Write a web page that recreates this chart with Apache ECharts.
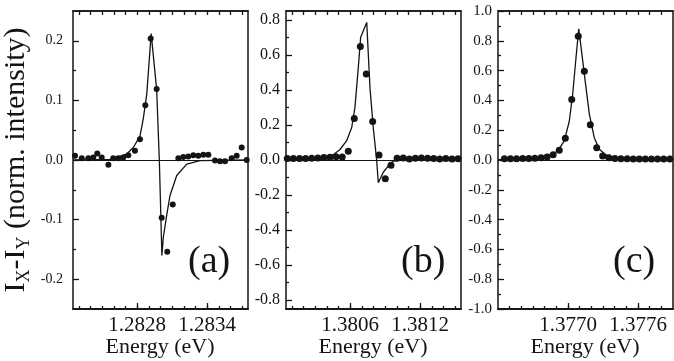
<!DOCTYPE html>
<html>
<head>
<meta charset="utf-8">
<script src="https://cdn.jsdelivr.net/npm/echarts@6/dist/echarts.min.js"></script>
<style>
  html, body { margin: 0; padding: 0; background: #fff; }
  #chart { width: 674px; height: 361px; }
</style>
</head>
<body>
<div id="chart"></div>
<script>
// panel (a)
const aEnergy = [1.282267, 1.282325, 1.282381, 1.282424, 1.282458, 1.282496, 1.282553, 1.282595, 1.282638, 1.282681, 1.282724, 1.282781, 1.282824, 1.28287, 1.282916, 1.282967, 1.28301, 1.283058, 1.283105, 1.283153, 1.283195, 1.283238, 1.283281, 1.283324, 1.283367, 1.28341, 1.283467, 1.28351, 1.283553, 1.28361, 1.283653, 1.283696, 1.283739]
const aSignal = [0.007, 0.003, 0.003, 0.004, 0.011, 0.004, -0.008, 0.003, 0.003, 0.004, 0.008, 0.0155, 0.035, 0.092, 0.204, 0.119, -0.097, -0.154, -0.0745, 0.003, 0.005, 0.006, 0.008, 0.007, 0.009, 0.009, -0.001, -0.002, -0.002, 0.003, 0.007, 0.021, 0.0]
const aFitEnergy = [1.28225, 1.282567, 1.28271, 1.282767, 1.282824, 1.282853, 1.282882, 1.28292, 1.282967, 1.28299, 1.283012, 1.283024, 1.283053, 1.283081, 1.283139, 1.283225, 1.283339, 1.28375]
const aFitSignal = [0, 0.001, 0.01, 0.021, 0.04, 0.07, 0.11, 0.212, 0.118, 0, -0.16, -0.13, -0.093, -0.06, -0.026, -0.007, -0.001, 0]

// panel (b)
const bEnergy = [1.380061, 1.380113, 1.380166, 1.380218, 1.38027, 1.380323, 1.380375, 1.380427, 1.380479, 1.380532, 1.380584, 1.380635, 1.380687, 1.380738, 1.380793, 1.380847, 1.380901, 1.38095, 1.381002, 1.381055, 1.381107, 1.381159, 1.381211, 1.381264, 1.381316, 1.381368, 1.38142, 1.381473, 1.381525]
const bSignal = [0.008, 0.008, 0.009, 0.008, 0.01, 0.012, 0.014, 0.016, 0.018, 0.017, 0.05, 0.237, 0.648, 0.49, 0.219, 0.029, -0.107, -0.03, 0.01, 0.012, 0.005, 0.01, 0.012, 0.01, 0.008, 0.006, 0.008, 0.006, 0.007]
const bFitEnergy = [1.38005, 1.380341, 1.380455, 1.380513, 1.38057, 1.380613, 1.380641, 1.38067, 1.38069, 1.380742, 1.38077, 1.380798, 1.380827, 1.380841, 1.380884, 1.380927, 1.38097, 1.381027, 1.38155]
const bFitSignal = [0, 0.005, 0.03, 0.06, 0.11, 0.185, 0.3, 0.53, 0.7, 0.785, 0.41, 0.185, 0, -0.13, -0.07, -0.034, -0.006, 0, 0]

// panel (c)
const cEnergy = [1.376455, 1.376507, 1.376559, 1.376612, 1.376664, 1.376716, 1.376769, 1.376821, 1.376873, 1.376925, 1.376977, 1.377032, 1.377088, 1.37714, 1.377191, 1.377246, 1.377297, 1.37735, 1.377402, 1.377454, 1.377507, 1.377559, 1.377611, 1.377663, 1.377716, 1.377768, 1.37782, 1.377873]
const cSignal = [0.008, 0.008, 0.009, 0.01, 0.01, 0.012, 0.015, 0.02, 0.035, 0.065, 0.146, 0.406, 0.83, 0.595, 0.236, 0.083, 0.027, 0.015, 0.01, 0.008, 0.008, 0.007, 0.007, 0.007, 0.007, 0.007, 0.007, 0.007]
const cFitEnergy = [1.3764, 1.376597, 1.376711, 1.376854, 1.376912, 1.376968, 1.377011, 1.37704, 1.377069, 1.377092, 1.377126, 1.377154, 1.377183, 1.377225, 1.377268, 1.377326, 1.377397, 1.377626, 1.3779]
const cFitSignal = [0.003, 0.007, 0.015, 0.034, 0.06, 0.128, 0.26, 0.44, 0.69, 0.88, 0.667, 0.487, 0.308, 0.15, 0.072, 0.034, 0.015, 0.006, 0.003]

// tick values
const aXMajor = [1.2828, 1.2834]
const aXMinor = [1.2823, 1.2824, 1.2825, 1.2826, 1.2827, 1.2828, 1.2829, 1.283, 1.2831, 1.2832, 1.2833, 1.2834, 1.2835, 1.2836, 1.2837]
const bXMajor = [1.3806, 1.3812]
const bXMinor = [1.3801, 1.3802, 1.3803, 1.3804, 1.3805, 1.3806, 1.3807, 1.3808, 1.3809, 1.381, 1.3811, 1.3812, 1.3813, 1.3814, 1.3815]
const cXMajor = [1.377, 1.3776]
const cXMinor = [1.3765, 1.3766, 1.3767, 1.3768, 1.3769, 1.377, 1.3771, 1.3772, 1.3773, 1.3774, 1.3775, 1.3776, 1.3777, 1.3778]
const aYMajor = [-0.2, -0.1, 0, 0.1, 0.2]
const aYMinor = [-0.15, -0.05, 0.05, 0.15]
const bYMajor = [-0.8, -0.6, -0.4, -0.2, 0, 0.2, 0.4, 0.6, 0.8]
const bYMinor = [-0.7, -0.5, -0.3, -0.1, 0.1, 0.3, 0.5, 0.7]
const cYMajor = [-1, -0.8, -0.6, -0.4, -0.2, 0, 0.2, 0.4, 0.6, 0.8, 1]
const cYMinor = [-0.9, -0.7, -0.5, -0.3, -0.1, 0.1, 0.3, 0.5, 0.7, 0.9]

const ink = '#141414'
const serif = '"Liberation Serif", serif'

let panels = [
  { left: 73, xMin: 1.28225, xMax: 1.28375, yMin: -0.25, yMax: 0.25, xMajor: aXMajor, xMinor: aXMinor, yMajor: aYMajor, yMinor: aYMinor, yFont: 14, yMargin: 10, dot: 6, energy: aEnergy, signal: aSignal, fitE: aFitEnergy, fitS: aFitSignal, tag: '(a)' },
  { left: 286, xMin: 1.38005, xMax: 1.38155, yMin: -0.85, yMax: 0.85, xMajor: bXMajor, xMinor: bXMinor, yMajor: bYMajor, yMinor: bYMinor, yFont: 16, yMargin: 6, dot: 7, energy: bEnergy, signal: bSignal, fitE: bFitEnergy, fitS: bFitSignal, tag: '(b)' },
  { left: 498, xMin: 1.3764, xMax: 1.3779, yMin: -1, yMax: 1, xMajor: cXMajor, xMinor: cXMinor, yMajor: cYMajor, yMinor: cYMinor, yFont: 15, yMargin: 6, dot: 7, energy: cEnergy, signal: cSignal, fitE: cFitEnergy, fitS: cFitSignal, tag: '(c)' }
]

let grid = []
let xAxis = []
let yAxis = []
let series = []
let graphic = []

panels.forEach((p, i) => {
  grid.push({
    left: p.left, top: 11, width: 175, height: 298,
    outerBoundsMode: 'none',
    show: true, borderColor: ink, borderWidth: 1.5
  })

  // x axes: bottom major with labels, bottom minor, top minor
  let xBase = { gridIndex: i, type: 'value', min: p.xMin, max: p.xMax, splitLine: { show: false } }
  xAxis.push(Object.assign({}, xBase, {
    position: 'bottom',
    axisLine: { show: true, onZero: false, lineStyle: { color: ink, width: 1.5 } },
    axisTick: { show: true, inside: true, length: 6, customValues: p.xMajor, lineStyle: { color: ink, width: 1.3 } },
    axisLabel: { customValues: p.xMajor, formatter: v => v.toFixed(4), color: ink, fontFamily: serif, fontSize: 21, margin: 6 }
  }))
  xAxis.push(Object.assign({}, xBase, {
    position: 'bottom',
    axisLine: { show: true, onZero: false, lineStyle: { color: ink, width: 1.5 } },
    axisTick: { show: true, inside: true, length: 3, customValues: p.xMinor, lineStyle: { color: ink, width: 1.3 } },
    axisLabel: { show: false }
  }))
  xAxis.push(Object.assign({}, xBase, {
    position: 'top',
    axisLine: { show: true, onZero: false, lineStyle: { color: ink, width: 1.5 } },
    axisTick: { show: true, inside: true, length: 4, customValues: p.xMinor, lineStyle: { color: ink, width: 1.3 } },
    axisLabel: { show: false }
  }))

  // y axes: left major with labels, left minor
  let yBase = { gridIndex: i, type: 'value', min: p.yMin, max: p.yMax, position: 'left', splitLine: { show: false }, axisLine: { show: false, onZero: false } }
  let yMain = Object.assign({}, yBase, {
    axisTick: { show: true, inside: true, length: 6, customValues: p.yMajor, lineStyle: { color: ink, width: 1.3 } },
    axisLabel: { customValues: p.yMajor, formatter: v => v.toFixed(1), color: ink, fontFamily: serif, fontSize: p.yFont, margin: p.yMargin }
  })
  if (i === 0) {
    yMain.name = '{m|I}{s|X}{m|-I}{s|Y}{m| (norm. intensity)}'
    yMain.nameLocation = 'middle'
    yMain.nameGap = 40
    yMain.nameTextStyle = {
      color: ink, fontFamily: serif, fontSize: 30,
      rich: {
        m: { color: ink, fontFamily: serif, fontSize: 30, lineHeight: 33 },
        s: { color: ink, fontFamily: serif, fontSize: 18, lineHeight: 14, verticalAlign: 'bottom' }
      }
    }
  }
  yAxis.push(yMain)
  yAxis.push(Object.assign({}, yBase, {
    axisTick: { show: true, inside: true, length: 3, customValues: p.yMinor, lineStyle: { color: ink, width: 1.3 } },
    axisLabel: { show: false }
  }))

  series.push({
    type: 'line',
    xAxisIndex: i * 3,
    yAxisIndex: i * 2,
    data: p.fitE.map((e, k) => [e, p.fitS[k]]),
    showSymbol: false,
    lineStyle: { color: ink, width: 1.3 },
    markLine: {
      silent: true,
      symbol: ['none', 'none'],
      label: { show: false },
      lineStyle: { color: ink, width: 1.2, type: 'solid' },
      data: [{ yAxis: 0 }]
    }
  })
  series.push({
    type: 'scatter',
    xAxisIndex: i * 3,
    yAxisIndex: i * 2,
    data: p.energy.map((e, k) => [e, p.signal[k]]),
    symbol: 'circle',
    symbolSize: p.dot,
    itemStyle: { color: ink, opacity: 1 }
  })

  // panel tag and x title
  graphic.push({
    type: 'text',
    left: p.left + 115,
    top: 243,
    style: { text: p.tag, fill: ink, fontFamily: serif, fontSize: 38 }
  })
  graphic.push({
    type: 'text',
    x: p.left + 87,
    y: 347,
    style: { text: 'Energy (eV)', fill: ink, fontFamily: serif, fontSize: 22, align: 'center', verticalAlign: 'middle' }
  })
})

let chart = echarts.init(document.getElementById('chart'))

chart.setOption({
  animation: false,
  backgroundColor: '#fff',
  grid: grid,
  xAxis: xAxis,
  yAxis: yAxis,
  series: series,
  graphic: graphic
})
</script>
</body>
</html>
